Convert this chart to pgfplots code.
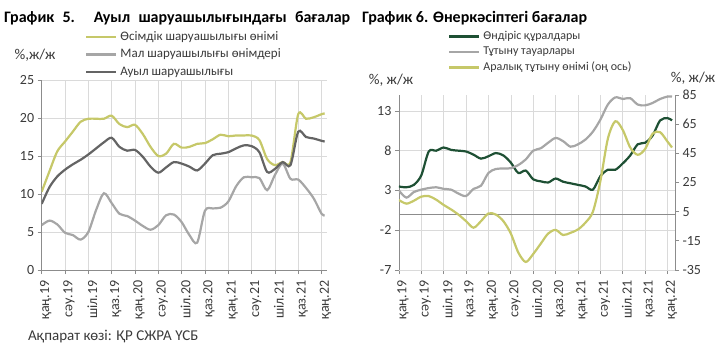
\documentclass[border=0pt]{standalone}
\usepackage{fontspec}
\setmainfont{Carlito}
\usepackage{pgfplots}
\usepackage{pgfplotstable}
\pgfplotsset{compat=1.18}

\definecolor{cyel}{HTML}{C6C869}
\definecolor{cgl}{HTML}{A6A6A6}
\definecolor{cgd}{HTML}{646464}
\definecolor{cgreen}{HTML}{1E5034}
\definecolor{cgrid}{HTML}{DADADA}
\definecolor{caxis}{HTML}{8C8C8C}
\definecolor{ctext}{HTML}{3A3A3A}

\pgfplotstableread{
i yel gry drk
0 10.3 5.9 8.7
1 13.0 6.5 10.9
2 15.6 6.0 12.3
3 16.9 4.9 13.2
4 18.2 4.6 13.9
5 19.5 4.0 14.5
6 19.9 5.0 15.2
7 19.9 7.9 16.0
8 19.9 10.1 16.8
9 20.3 8.8 17.4
10 19.2 7.4 16.2
11 18.8 7.1 15.7
12 19.1 6.5 15.8
13 17.9 5.8 14.9
14 16.2 5.3 13.6
15 15.0 5.9 12.8
16 15.3 7.2 13.5
17 16.6 7.3 14.2
18 16.1 6.3 14.0
19 16.2 4.6 13.6
20 16.6 3.6 13.1
21 16.7 7.8 14.0
22 17.2 8.1 15.1
23 17.8 8.2 15.3
24 17.6 9.0 15.5
25 17.7 11.0 16.0
26 17.7 12.2 16.4
27 17.7 12.2 16.3
28 17.1 12.1 15.5
29 14.6 10.5 12.9
30 13.8 12.5 13.3
31 14.2 14.0 14.2
32 14.2 12.0 13.8
33 20.5 11.9 18.2
34 19.9 10.8 17.5
35 20.1 9.4 17.3
36 20.5 7.4 17.0
36.4 20.6 7.2 16.9
}\agri

\pgfplotstableread{
i grn gry yel
0 3.5 3.0 13
1 3.4 2.1 10.5
2 3.7 2.8 12.5
3 4.9 3.1 15.3
4 7.9 3.3 15.7
5 8.0 3.4 13.2
6 8.4 3.2 9.6
7 8.1 3.1 6.5
8 8.0 2.6 2.9
9 7.9 2.3 -1.5
10 7.5 3.2 -6
11 7.0 3.6 -1.5
12 7.3 5.2 3.8
13 7.7 5.7 3.0
14 7.4 5.75 -1.5
15 6.5 5.8 -10
16 5.2 6.2 -23
17 5.5 6.9 -29.5
18 4.4 8.0 -24
19 4.15 8.3 -17
20 4.0 9.0 -10
21 4.5 9.6 -7.5
22 4.1 9.2 -11
23 3.9 8.5 -9.5
24 3.7 8.8 -7.2
25 3.5 9.4 -2.5
26 3.1 10.4 5
27 4.8 11.9 26
28 5.6 13.8 55
29 5.6 14.7 67
30 6.4 14.5 61
31 7.4 14.6 49
32 8.8 13.8 44
33 9.0 13.7 48
34 9.9 14.0 58.5
35 11.8 14.5 59.5
36 12.1 14.8 53
36.6 11.8 14.8 49
}\indus

\pgfplotsset{
  base/.style={
    scale only axis, anchor=south west,
    axis x line*=bottom, axis y line*=left,
    grid=major, grid style={cgrid, line width=0.6pt},
    axis line style={caxis, line width=0.8pt},
    tick style={caxis, line width=0.8pt},
    tick align=outside, major tick length=4pt,
    xtick={0,3,...,36},
    xticklabels={қаң.19,сәу.19,шіл.19,қаз.19,қаң.20,сәу.20,шіл.20,қаз.20,қаң.21,сәу.21,шіл.21,қаз.21,қаң.22},
    xticklabel shift=3pt,
    xticklabel style={font=\fontsize{14}{16}\selectfont, text=ctext, xshift=4pt, rotate=90, anchor=east},
    yticklabel style={font=\fontsize{14}{16}\selectfont, text=ctext},
    /pgf/number format/assume math mode=true,
    legend cell align=left,
    legend image code/.code={\draw[##1, line width=2.2pt] (0pt,0pt) -- (30pt,0pt);},
  },
  ln/.style={smooth, tension=0.5, line width=2.2pt, no markers},
}

\begin{document}
\begin{tikzpicture}[x=1pt,y=1pt]
\path[use as bounding box] (0,0) rectangle (720,354);

% ---------- Chart 5 ----------
\begin{axis}[base,
  at={(41.7pt,84pt)}, width=285.3pt, height=190pt,
  xmin=0, xmax=36.7, ymin=0, ymax=25, ytick={0,5,...,25},
  legend style={at={(0.152,1.258)}, anchor=north west, draw=none, fill=none,
    font=\fontsize{13}{15}\selectfont, text=ctext, inner sep=0pt, row sep=6pt,
    nodes={inner sep=0pt, text height=9pt, text depth=2.5pt},
    /tikz/every odd column/.append style={column sep=3pt}},
]
\addplot[ln, cyel] table[x=i, y=yel] {\agri};
\addlegendentry{Өсімдік шаруашылығы өнімі}
\addplot[ln, cgl] table[x=i, y=gry] {\agri};
\addlegendentry{Мал шаруашылығы өнімдері}
\addplot[ln, cgd] table[x=i, y=drk] {\agri};
\addlegendentry{Ауыл шаруашылығы}
\end{axis}

% ---------- Chart 6 ----------
\begin{axis}[base,
  at={(398.9pt,84pt)}, width=276.1pt, height=175pt,
  xmin=0, xmax=37, ymin=-7, ymax=15, ytick={-7,-2,...,13},
  x axis line style={cgrid},
  extra y ticks={0}, extra y tick labels={},
  extra y tick style={grid=major, grid style={caxis, line width=0.8pt}, major tick length=0pt},
  legend style={at={(0.178,1.367)}, anchor=north west, draw=none, fill=none,
    font=\fontsize{12}{14}\selectfont, text=ctext, inner sep=0pt, row sep=4.5pt,
    nodes={inner sep=0pt, text height=8.5pt, text depth=2.5pt},
    /tikz/every odd column/.append style={column sep=3pt}},
]
\addplot[ln, cgreen] table[x=i, y=grn] {\indus};
\addlegendentry{Өндіріс құралдары}
\addplot[ln, cgl] table[x=i, y=gry] {\indus};
\addlegendentry{Тұтыну тауарлары}
\addlegendimage{ln, cyel}
\addlegendentry{Аралық тұтыну өнімі (оң ось)}
\end{axis}

\begin{axis}[
  scale only axis, anchor=south west,
  at={(398.9pt,84pt)}, width=276.1pt, height=175pt,
  xmin=0, xmax=37, ymin=-35, ymax=85, ytick={-35,-15,...,85},
  axis x line=none, axis y line*=right,
  axis line style={caxis, line width=0.8pt},
  tick style={caxis, line width=0.8pt},
  tick align=outside, major tick length=4pt,
  yticklabel style={font=\fontsize{14}{16}\selectfont, text=ctext},
  /pgf/number format/assume math mode=true,
]
\addplot[ln, cyel] table[x=i, y=yel] {\indus};
\end{axis}

% ---------- texts ----------
\node[anchor=west, inner sep=0pt, font=\bfseries\fontsize{16}{18}\selectfont] at (4,336)
  {\makebox[346pt][s]{График 5. Ауыл шаруашылығындағы бағалар}};
\node[anchor=west, inner sep=0pt, font=\bfseries\fontsize{16}{18}\selectfont] at (362,336)
  {График 6. Өнеркәсіптегі бағалар};
\node[inner sep=0pt, font=\fontsize{15}{17}\selectfont, text=ctext] at (35,299) {\%,ж/ж};
\node[inner sep=0pt, font=\fontsize{15}{17}\selectfont, text=ctext] at (391,274) {\%, ж/ж};
\node[inner sep=0pt, font=\fontsize{15}{17}\selectfont, text=ctext] at (693,276) {\%, ж/ж};
\node[anchor=west, inner sep=0pt, font=\fontsize{15}{17}\selectfont, text=ctext] at (28,17)
  {Ақпарат көзі: ҚР СЖРА ҮСБ};
\end{tikzpicture}
\end{document}
